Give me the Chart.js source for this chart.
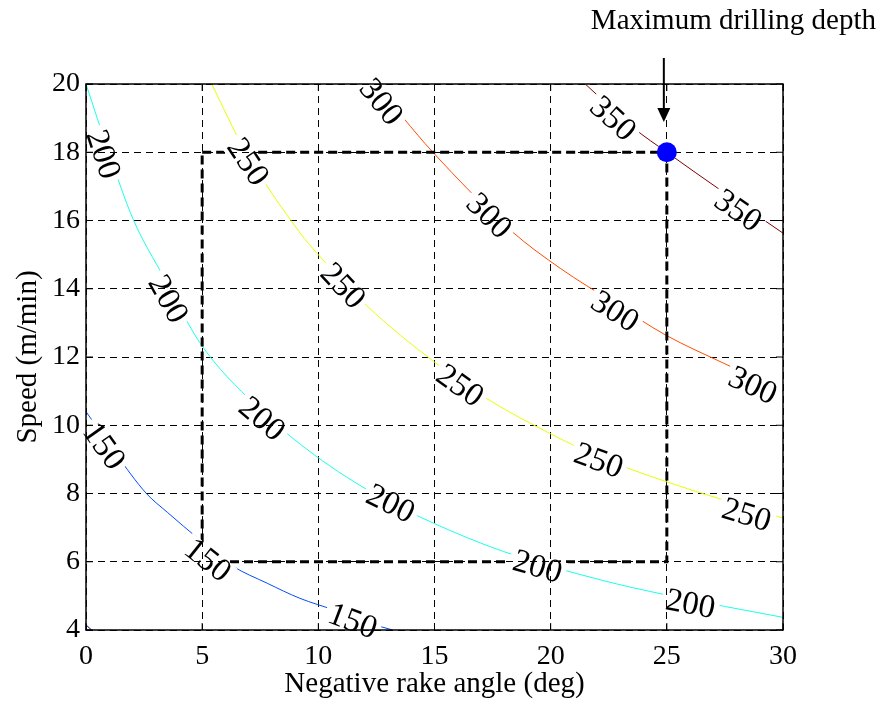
<!DOCTYPE html>
<html>
<head>
<meta charset="utf-8">
<script src="https://cdn.jsdelivr.net/npm/chart.js@4/dist/chart.umd.min.js"></script>
<style>
  html, body { margin: 0; padding: 0; background: #fff; }
</style>
</head>
<body>
<canvas id="chart" width="882" height="709" style="width:882px;height:709px"></canvas>
<script>
// drilling depth contours over rake angle (x) and speed (y)
const levels = [100, 150, 200, 250, 300, 350];
const levelColors = ['#000080', '#004dff', '#1affe6', '#e6ff00', '#ff4d00', '#800000'];

const rake100 = [0, 0.24];
const speed100 = [4.15, 4.0];

const rake150 = [0, 1.3, 2.6, 3.5, 4.9, 6.3, 7.8, 9.2, 10.7, 12.1, 13.2];
const speed150 = [10.4, 9.15, 8.0, 7.45, 6.64, 5.88, 5.37, 4.93, 4.58, 4.22, 4.0];

const rake200 = [0, 1.0, 2.04, 3.33, 4.91, 7.28, 9.5, 12.23, 14.96, 17.97, 22.14, 24.96, 30];
const speed200 = [20, 17.95, 16.02, 14.36, 12.41, 10.6, 9.3, 8.06, 7.13, 6.3, 5.47, 5.03, 4.37];

const rake250 = [5.41, 6.78, 9.22, 9.93, 12.09, 14.96, 17.11, 19.26, 22.0, 24.96, 30];
const speed250 = [20, 18.13, 15.63, 15.05, 13.5, 11.87, 10.84, 10.01, 9.1, 8.35, 7.28];

const rake300 = [12.5, 13.67, 14.89, 18.33, 20.41, 22.7, 24.93, 27.5, 30];
const speed300 = [20, 19.0, 18.03, 15.68, 14.6, 13.6, 12.65, 11.8, 11.0];

const rake350 = [21.49, 23.57, 25, 27.5, 30];
const speed350 = [20, 18.71, 18.0, 16.8, 15.63];

// inline contour labels (data coordinates)
const labelRake150 = [0.73, 5.21, 11.46];
const labelSpeed150 = [9.37, 6.02, 4.23];
const labelRake200 = [0.69, 3.49, 7.54, 13.09, 19.42, 26.01];
const labelSpeed200 = [17.93, 13.68, 10.16, 7.67, 5.82, 4.73];
const labelRake250 = [6.93, 11.02, 16.06, 22.05, 28.42];
const labelSpeed250 = [17.7, 14.06, 11.13, 8.93, 7.34];
const labelRake300 = [12.66, 17.31, 22.74, 28.68];
const labelSpeed300 = [19.45, 16.11, 13.3, 11.13];
const labelRake350 = [22.65, 28.04];
const labelSpeed350 = [18.96, 16.26];

// dashed design window and optimum point
const boxRake = [5, 25, 25, 5, 5];
const boxSpeed = [18, 18, 6, 6, 18];
const bestRake = [25];
const bestSpeed = [18];

const xTicks = [0, 5, 10, 15, 20, 25, 30];
const yTicks = [4, 6, 8, 10, 12, 14, 16, 18, 20];

const curveX = [rake100, rake150, rake200, rake250, rake300, rake350];
const curveY = [speed100, speed150, speed200, speed250, speed300, speed350];
const labelX = [[], labelRake150, labelRake200, labelRake250, labelRake300, labelRake350];
const labelY = [[], labelSpeed150, labelSpeed200, labelSpeed250, labelSpeed300, labelSpeed350];

const toPoints = (xs, ys) => xs.map((v, i) => ({ x: v, y: ys[i] }));
const serif = 'Liberation Serif';
const labelFont = '33px "' + serif + '"';

const datasets = [{
  label: 'optimum',
  data: toPoints(bestRake, bestSpeed),
  showLine: false,
  pointRadius: 10,
  pointBackgroundColor: '#0000ff',
  pointBorderWidth: 0
}, {
  label: 'window',
  data: toPoints(boxRake, boxSpeed),
  showLine: true,
  borderColor: '#000',
  borderWidth: 3,
  borderDash: [9, 5],
  pointRadius: 0
}];
levels.forEach((lv, i) => {
  datasets.push({
    label: String(lv),
    data: toPoints(curveX[i], curveY[i]),
    showLine: true,
    borderColor: levelColors[i],
    borderWidth: 1,
    pointRadius: 0,
    cubicInterpolationMode: 'monotone'
  });
});

// find label placement and rotation from the curve slope
const labelItems = (chart) => {
  const xs = chart.scales.x, ys = chart.scales.y;
  const items = [];
  chart.ctx.font = labelFont;
  levels.forEach((lv, i) => {
    const cx = curveX[i], cy = curveY[i];
    labelX[i].forEach((lx, k) => {
      let j = 0;
      while (j < cx.length - 2 && cx[j + 1] < lx) j++;
      const dx = xs.getPixelForValue(cx[j + 1]) - xs.getPixelForValue(cx[j]);
      const dy = ys.getPixelForValue(cy[j + 1]) - ys.getPixelForValue(cy[j]);
      const text = String(lv);
      items.push({
        text,
        px: xs.getPixelForValue(lx),
        py: ys.getPixelForValue(labelY[i][k]),
        angle: Math.atan2(dy, dx),
        w: chart.ctx.measureText(text).width + 8,
        h: 26
      });
    });
  });
  return items;
};

const contourLabels = {
  id: 'contourLabels',
  beforeDatasetsDraw(chart) {
    const ctx = chart.ctx;
    const items = labelItems(chart);
    chart.$labels = items;
    ctx.save();
    ctx.beginPath();
    ctx.rect(0, 0, chart.width, chart.height);
    items.forEach((it) => {
      const c = Math.cos(it.angle), s = Math.sin(it.angle);
      const hw = it.w / 2, hh = it.h / 2;
      const pts = [[-hw, -hh], [hw, -hh], [hw, hh], [-hw, hh]];
      pts.forEach((p, n) => {
        const X = it.px + p[0] * c - p[1] * s;
        const Y = it.py + p[0] * s + p[1] * c;
        if (n === 0) ctx.moveTo(X, Y); else ctx.lineTo(X, Y);
      });
      ctx.closePath();
    });
    ctx.clip('evenodd');
  },
  afterDatasetsDraw(chart) {
    const ctx = chart.ctx;
    ctx.restore();
    ctx.save();
    ctx.fillStyle = '#000';
    ctx.font = labelFont;
    ctx.textAlign = 'center';
    ctx.textBaseline = 'middle';
    (chart.$labels || []).forEach((it) => {
      ctx.save();
      ctx.translate(it.px, it.py);
      ctx.rotate(it.angle);
      ctx.fillText(it.text, 0, 0);
      ctx.restore();
    });
    ctx.restore();
  }
};

const frameAndNotes = {
  id: 'frameAndNotes',
  afterDraw(chart) {
    const ctx = chart.ctx;
    const a = chart.chartArea;
    const xs = chart.scales.x, ys = chart.scales.y;
    ctx.save();
    ctx.strokeStyle = '#000';
    ctx.lineWidth = 1.5;
    ctx.strokeRect(a.left, a.top, a.right - a.left, a.bottom - a.top);
    // inward ticks on all four sides
    ctx.lineWidth = 1;
    ctx.beginPath();
    xTicks.forEach((v) => {
      const p = xs.getPixelForValue(v);
      ctx.moveTo(p, a.bottom); ctx.lineTo(p, a.bottom - 7);
      ctx.moveTo(p, a.top); ctx.lineTo(p, a.top + 7);
    });
    yTicks.forEach((v) => {
      const p = ys.getPixelForValue(v);
      ctx.moveTo(a.left, p); ctx.lineTo(a.left + 7, p);
      ctx.moveTo(a.right, p); ctx.lineTo(a.right - 7, p);
    });
    ctx.stroke();

    // arrow pointing at the optimum
    const ax = xs.getPixelForValue(bestRake[0]) - 3;
    ctx.lineWidth = 2;
    ctx.beginPath();
    ctx.moveTo(ax, 58);
    ctx.lineTo(ax, 110);
    ctx.stroke();
    ctx.fillStyle = '#000';
    ctx.beginPath();
    ctx.moveTo(ax - 6.5, 108);
    ctx.lineTo(ax + 6.5, 108);
    ctx.lineTo(ax, 122);
    ctx.closePath();
    ctx.fill();

    ctx.font = '29px "' + serif + '"';
    ctx.textAlign = 'right';
    ctx.textBaseline = 'alphabetic';
    ctx.fillText('Maximum drilling depth', 876, 29);
    ctx.restore();
  }
};

const tickFont = { family: serif, size: 28 };
const titleFont = { family: serif, size: 29 };

new Chart(document.getElementById('chart'), {
  type: 'scatter',
  data: { datasets },
  options: {
    responsive: false,
    animation: false,
    layout: { padding: { top: 84, right: 99, left: 0, bottom: 0 } },
    plugins: { legend: { display: false }, tooltip: { enabled: false } },
    scales: {
      x: {
        type: 'linear',
        min: 0,
        max: 30,
        afterBuildTicks: (s) => { s.ticks = xTicks.map((v) => ({ value: v })); },
        ticks: { color: '#000', font: tickFont, padding: 10, maxRotation: 0 },
        grid: { color: '#000', lineWidth: 1, drawTicks: false },
        border: { display: false, dash: [7, 5] },
        title: {
          display: true, text: 'Negative rake angle (deg)', color: '#000',
          font: titleFont, padding: { top: 0, bottom: 7 }
        },
        afterFit: (s) => { s.height = 79; }
      },
      y: {
        type: 'linear',
        min: 4,
        max: 20,
        afterBuildTicks: (s) => { s.ticks = yTicks.map((v) => ({ value: v })); },
        ticks: { color: '#000', font: tickFont, padding: 6 },
        grid: { color: '#000', lineWidth: 1, drawTicks: false },
        border: { display: false, dash: [7, 5] },
        title: {
          display: true, text: 'Speed (m/min)', color: '#000',
          font: titleFont, padding: { top: 11, bottom: 0 }
        },
        afterFit: (s) => { s.width = 86; }
      }
    }
  },
  plugins: [contourLabels, frameAndNotes]
});
</script>
</body>
</html>
